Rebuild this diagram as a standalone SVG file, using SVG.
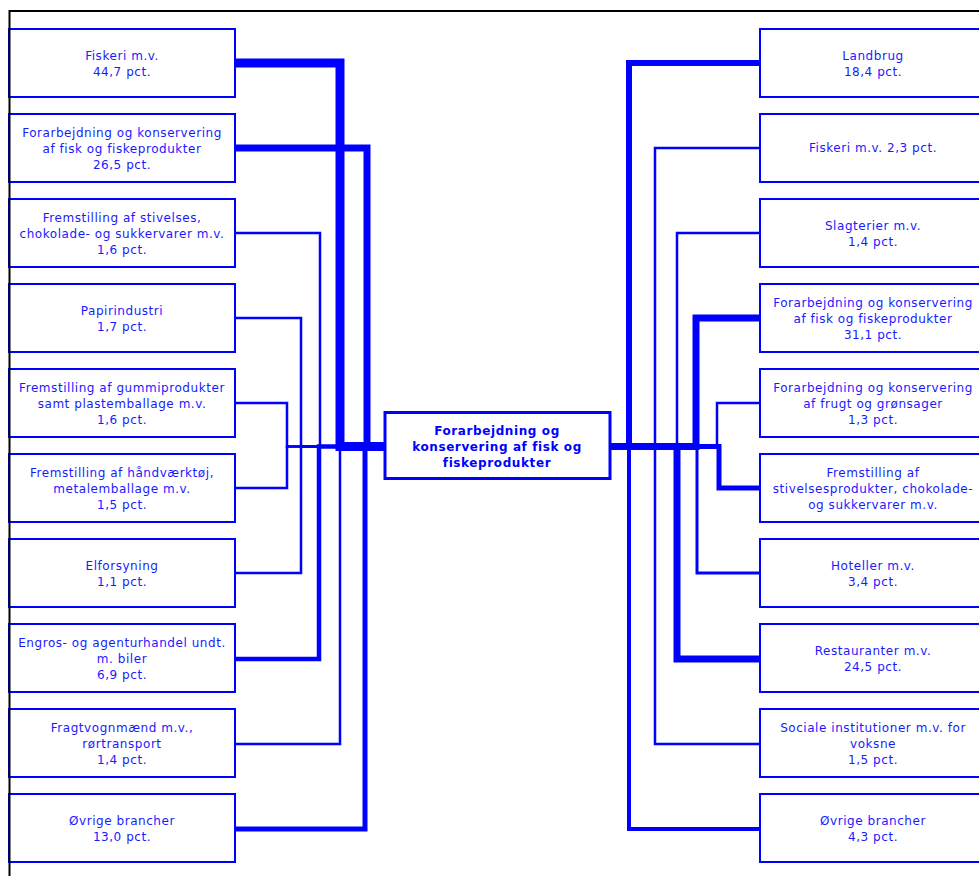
<svg xmlns="http://www.w3.org/2000/svg" width="979" height="876" viewBox="0 0 979 876">
<style>
.box{fill:#fff;stroke:#0000ff;stroke-width:2}
.cbox{fill:#fff;stroke:#0000ff;stroke-width:3}
.t{font-family:"DejaVu Sans","Liberation Sans",sans-serif;font-size:12px;letter-spacing:0.55px;fill:#1a1aff;text-anchor:middle}
.tb{font-weight:bold;fill:#0000ff;letter-spacing:0.6px}
.c{fill:none;stroke:#0000ff;stroke-linejoin:miter;stroke-linecap:butt}
</style>
<rect width="979" height="876" fill="#fff"/>
<g id="connectors">
<path class="c" stroke-width="2.5" d="M235,233H320V446.5H384"/>
<path class="c" stroke-width="2.5" d="M235,318H301V446.5H384"/>
<path class="c" stroke-width="2.5" d="M235,403H287V446.5H384"/>
<path class="c" stroke-width="2.5" d="M235,488H287V446.5H384"/>
<path class="c" stroke-width="2.5" d="M235,573H301V446.5H384"/>
<path class="c" stroke-width="4.5" d="M235,659H319V446.5H384"/>
<path class="c" stroke-width="2.5" d="M235,744H340V446.5H384"/>
<path class="c" stroke-width="5" d="M235,829H365V446.5H384"/>
<path class="c" stroke-width="7" d="M235,148H367V446.5H384"/>
<path class="c" stroke-width="9" d="M235,63H340V446.5H384"/>
<path class="c" stroke-width="2.5" d="M611,446.5H655V148H760"/>
<path class="c" stroke-width="2.5" d="M611,446.5H677V233H760"/>
<path class="c" stroke-width="2.5" d="M611,446.5H717V403H760"/>
<path class="c" stroke-width="5" d="M611,446.5H719V488H760"/>
<path class="c" stroke-width="3" d="M611,446.5H697V573H760"/>
<path class="c" stroke-width="2.5" d="M611,446.5H655V744H760"/>
<path class="c" stroke-width="4" d="M611,446.5H629V829H760"/>
<path class="c" stroke-width="7" d="M611,446.5H677V659H760"/>
<path class="c" stroke-width="7" d="M611,446.5H696V318H760"/>
<path class="c" stroke-width="6" d="M611,446.5H629V63H760"/>
</g>
<g id="center">
<rect class="cbox" x="385" y="412.5" width="225" height="66"/>
<text class="t tb" x="497" y="435">Forarbejdning og</text>
<text class="t tb" x="497" y="451">konservering af fisk og</text>
<text class="t tb" x="497" y="467">fiskeprodukter</text>
</g>
<g id="l1"><rect class="box" x="9" y="29" width="226" height="68"/><text class="t" x="122" y="60">Fiskeri m.v.</text><text class="t" x="122" y="76">44,7 pct.</text></g>
<g id="l2"><rect class="box" x="9" y="114" width="226" height="68"/><text class="t" x="122" y="137">Forarbejdning og konservering</text><text class="t" x="122" y="153">af fisk og fiskeprodukter</text><text class="t" x="122" y="169">26,5 pct.</text></g>
<g id="l3"><rect class="box" x="9" y="199" width="226" height="68"/><text class="t" x="122" y="222">Fremstilling af stivelses,</text><text class="t" x="122" y="238">chokolade- og sukkervarer m.v.</text><text class="t" x="122" y="254">1,6 pct.</text></g>
<g id="l4"><rect class="box" x="9" y="284" width="226" height="68"/><text class="t" x="122" y="315">Papirindustri</text><text class="t" x="122" y="331">1,7 pct.</text></g>
<g id="l5"><rect class="box" x="9" y="369" width="226" height="68"/><text class="t" x="122" y="392">Fremstilling af gummiprodukter</text><text class="t" x="122" y="408">samt plastemballage m.v.</text><text class="t" x="122" y="424">1,6 pct.</text></g>
<g id="l6"><rect class="box" x="9" y="454" width="226" height="68"/><text class="t" x="122" y="477">Fremstilling af håndværktøj,</text><text class="t" x="122" y="493">metalemballage m.v.</text><text class="t" x="122" y="509">1,5 pct.</text></g>
<g id="l7"><rect class="box" x="9" y="539" width="226" height="68"/><text class="t" x="122" y="570">Elforsyning</text><text class="t" x="122" y="586">1,1 pct.</text></g>
<g id="l8"><rect class="box" x="9" y="624" width="226" height="68"/><text class="t" x="122" y="647">Engros- og agenturhandel undt.</text><text class="t" x="122" y="663">m. biler</text><text class="t" x="122" y="679">6,9 pct.</text></g>
<g id="l9"><rect class="box" x="9" y="709" width="226" height="68"/><text class="t" x="122" y="732">Fragtvognmænd m.v.,</text><text class="t" x="122" y="748">rørtransport</text><text class="t" x="122" y="764">1,4 pct.</text></g>
<g id="l10"><rect class="box" x="9" y="794" width="226" height="68"/><text class="t" x="122" y="825">Øvrige brancher</text><text class="t" x="122" y="841">13,0 pct.</text></g>
<g id="r1"><rect class="box" x="760" y="29" width="226" height="68"/><text class="t" x="873" y="60">Landbrug</text><text class="t" x="873" y="76">18,4 pct.</text></g>
<g id="r2"><rect class="box" x="760" y="114" width="226" height="68"/><text class="t" x="873" y="152">Fiskeri m.v. 2,3 pct.</text></g>
<g id="r3"><rect class="box" x="760" y="199" width="226" height="68"/><text class="t" x="873" y="230">Slagterier m.v.</text><text class="t" x="873" y="246">1,4 pct.</text></g>
<g id="r4"><rect class="box" x="760" y="284" width="226" height="68"/><text class="t" x="873" y="307">Forarbejdning og konservering</text><text class="t" x="873" y="323">af fisk og fiskeprodukter</text><text class="t" x="873" y="339">31,1 pct.</text></g>
<g id="r5"><rect class="box" x="760" y="369" width="226" height="68"/><text class="t" x="873" y="392">Forarbejdning og konservering</text><text class="t" x="873" y="408">af frugt og grønsager</text><text class="t" x="873" y="424">1,3 pct.</text></g>
<g id="r6"><rect class="box" x="760" y="454" width="226" height="68"/><text class="t" x="873" y="477">Fremstilling af</text><text class="t" x="873" y="493">stivelsesprodukter, chokolade-</text><text class="t" x="873" y="509">og sukkervarer m.v.</text></g>
<g id="r7"><rect class="box" x="760" y="539" width="226" height="68"/><text class="t" x="873" y="570">Hoteller m.v.</text><text class="t" x="873" y="586">3,4 pct.</text></g>
<g id="r8"><rect class="box" x="760" y="624" width="226" height="68"/><text class="t" x="873" y="655">Restauranter m.v.</text><text class="t" x="873" y="671">24,5 pct.</text></g>
<g id="r9"><rect class="box" x="760" y="709" width="226" height="68"/><text class="t" x="873" y="732">Sociale institutioner m.v. for</text><text class="t" x="873" y="748">voksne</text><text class="t" x="873" y="764">1,5 pct.</text></g>
<g id="r10"><rect class="box" x="760" y="794" width="226" height="68"/><text class="t" x="873" y="825">Øvrige brancher</text><text class="t" x="873" y="841">4,3 pct.</text></g>
<path d="M9.5,876V11H979" fill="none" stroke="#000" stroke-width="2"/>
</svg>
